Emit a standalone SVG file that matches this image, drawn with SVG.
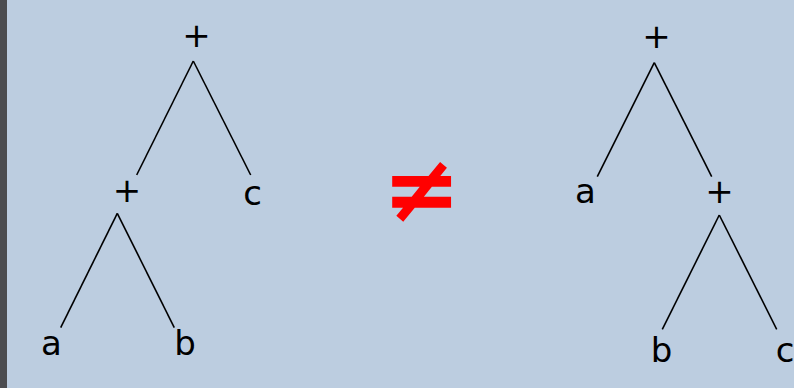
<svg xmlns="http://www.w3.org/2000/svg" width="794" height="388" viewBox="0 0 794 388">
  <style>
    .lbl { font-family: "DejaVu Sans", sans-serif; font-size: 34px; fill: #000; text-anchor: middle; }
    .edge { stroke: #000; stroke-width: 1.6; fill: none; }
    .neq { font-family: "DejaVu Sans", sans-serif; font-size: 94px; font-weight: bold; fill: #ff0000; text-anchor: middle; }
  </style>
  <!-- background and left frame strip -->
  <rect x="0" y="0" width="794" height="388" fill="#bccde0"/>
  <rect x="0" y="0" width="7" height="388" fill="#4b4c50"/>

  <!-- connectors -->
  <g id="edges">
    <!-- left tree: (a + b) + c -->
    <line class="edge" x1="193.3" y1="61" x2="136.7" y2="175"/>
    <line class="edge" x1="193.3" y1="61" x2="250.7" y2="175"/>
    <line class="edge" x1="117.3" y1="213.3" x2="60.7" y2="327.7"/>
    <line class="edge" x1="117.3" y1="213.3" x2="174.3" y2="327.7"/>
    <!-- right tree: a + (b + c) -->
    <line class="edge" x1="654.3" y1="62.7" x2="597.3" y2="176.7"/>
    <line class="edge" x1="654.3" y1="62.7" x2="711.7" y2="176.7"/>
    <line class="edge" x1="719.3" y1="215" x2="662.3" y2="329.3"/>
    <line class="edge" x1="719.3" y1="215" x2="776.7" y2="329.3"/>
  </g>

  <!-- left tree nodes -->
  <g id="L-root"><text class="lbl" x="196.5" y="47">+</text></g>
  <g id="L-plus"><text class="lbl" x="127" y="202">+</text></g>
  <g id="L-c"><text class="lbl" x="252.5" y="205">c</text></g>
  <g id="L-a"><text class="lbl" x="51.5" y="355">a</text></g>
  <g id="L-b"><text class="lbl" x="185" y="355">b</text></g>

  <!-- not-equal sign -->
  <g id="neq"><text class="neq" x="421.7" y="221">≠</text></g>

  <!-- right tree nodes -->
  <g id="R-root"><text class="lbl" x="656.5" y="48">+</text></g>
  <g id="R-a"><text class="lbl" x="585.5" y="203">a</text></g>
  <g id="R-plus"><text class="lbl" x="719.5" y="203">+</text></g>
  <g id="R-b"><text class="lbl" x="661.5" y="362">b</text></g>
  <g id="R-c"><text class="lbl" x="785" y="362">c</text></g>
</svg>
